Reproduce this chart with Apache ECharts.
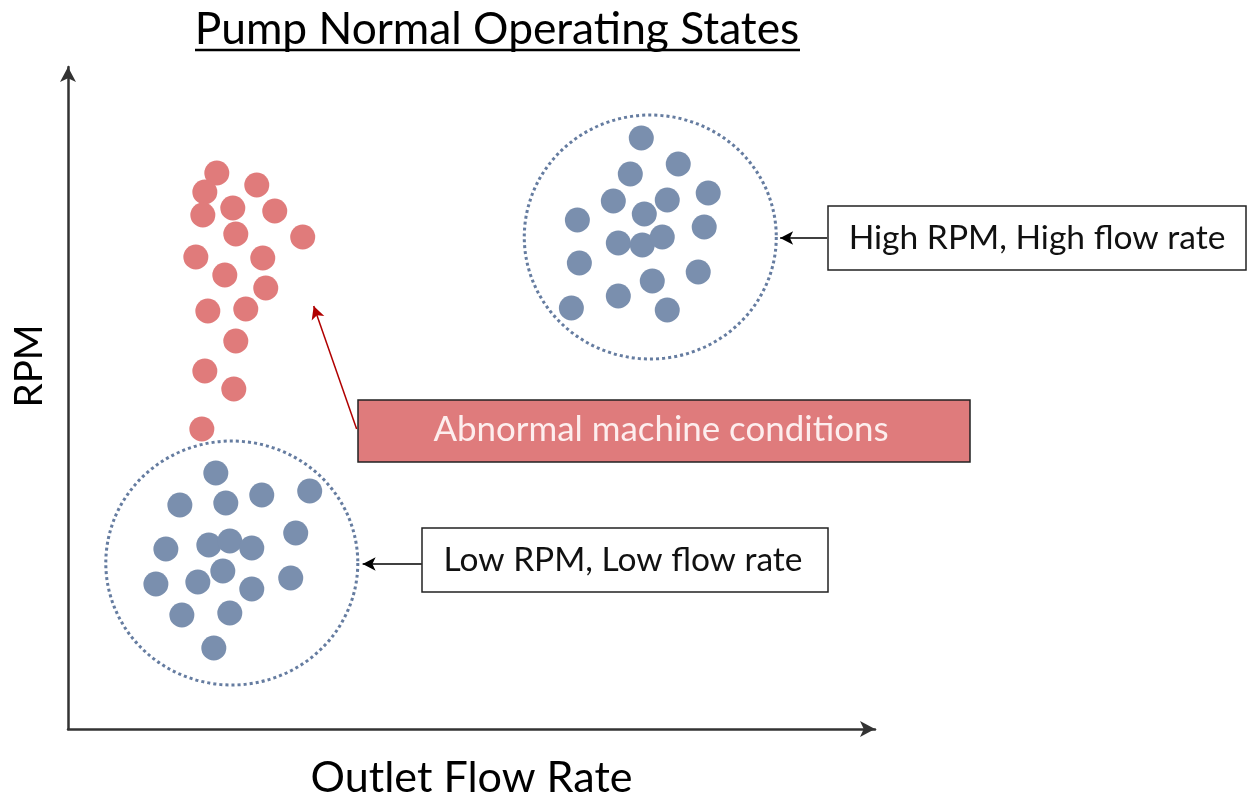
<!DOCTYPE html>
<html>
<head>
<meta charset="utf-8">
<script src="https://cdn.jsdelivr.net/npm/echarts@6/dist/echarts.min.js"></script>
<style>html,body{margin:0;padding:0;background:#fff}#c{width:1248px;height:797px}</style>
</head>
<body>
<div id="c"></div>
<script>
// Data (arbitrary units: outlet flow rate, RPM)
const abnormal = [[149,556],[137,537],[189,544],[135,514],[165,521],[207,518],[168,495],[235,492],[128,472],[195,471],[157,454],[198,441],[140,418],[178,420],[168,388],[137,358],[166,340],[134,300]];
const highState = [[574,591],[611,565],[563,555],[641,536],[546,528],[600,529],[577,515],[510,509],[637,502],[551,486],[575,484],[595,492],[512,466],[631,457],[585,448],[551,433],[504,421],[600,419]];
const lowState = [[148,256],[112,224],[158,226],[194,234],[242,238],[98,180],[141,184],[162,188],[184,181],[228,196],[155,158],[88,145],[130,147],[184,140],[223,151],[114,114],[162,116],[146,81]];
const clusterCenters = [[583,492],[164,166]];
const arrowsBlack = [[[760,491],[713,491]],[[354,165],[295,165]]];
const arrowRed = [[289,300],[246,423]];

const FONT = 'Lato';
function fit(text, target, weight) {
  const c = document.createElement('canvas').getContext('2d');
  c.font = (weight||'normal') + ' 100px ' + FONT;
  return Math.round(100 * target / c.measureText(text).width * 10) / 10;
}
const titleText = 'Pump Normal Operating States';
const tSize = fit(titleText, 605);
const hiText = 'High RPM, High flow rate', loText = 'Low RPM, Low flow rate', abText = 'Abnormal machine conditions';
const hiSize = fit(hiText, 377), loSize = fit(loText, 359), abSize = fit(abText, 455);
const xnSize = fit('Outlet Flow Rate', 322), ynSize = fit('RPM', 83);

const chart = echarts.init(document.getElementById('c'));
chart.setOption({
  animation: false,
  backgroundColor: '#fff',
  grid: {left: 68, right: 373, top: 67, bottom: 68, containLabel: false, outerBoundsMode: 'none'},
  xAxis: {type: 'value', min: 0, max: 808, splitLine: {show: false}, axisTick: {show: false}, axisLabel: {show: false},
    axisLine: {show: true, lineStyle: {color: '#333', width: 2.5}, symbol: ['none', 'arrow'], symbolSize: [12, 15]},
    name: 'Outlet Flow Rate', nameLocation: 'middle', nameGap: 28,
    nameTextStyle: {fontFamily: FONT, fontSize: xnSize, color: '#000'}},
  yAxis: {type: 'value', min: 0, max: 662, splitLine: {show: false}, axisTick: {show: false}, axisLabel: {show: false},
    axisLine: {show: true, lineStyle: {color: '#333', width: 2.5}, symbol: ['none', 'arrow'], symbolSize: [12, 15]}},
  graphic: [
    {type: 'text', style: {text: titleText, font: tSize + 'px ' + FONT, fill: '#000', x: 497, y: 30, align: 'center', verticalAlign: 'middle'}},
    {type: 'line', shape: {x1: 195, y1: 50, x2: 800, y2: 50}, style: {stroke: '#000', lineWidth: 2.5}},
    {type: 'text', x: 30, y: 366, rotation: Math.PI / 2, style: {text: 'RPM', font: ynSize + 'px ' + FONT, fill: '#000', align: 'center', verticalAlign: 'middle'}},
    {type: 'rect', shape: {x: 828, y: 206, width: 418, height: 64}, style: {fill: '#fff', stroke: '#222', lineWidth: 1.5}},
    {type: 'text', style: {text: hiText, x: 1037, y: 238, font: hiSize + 'px ' + FONT, fill: '#111', align: 'center', verticalAlign: 'middle'}},
    {type: 'rect', shape: {x: 422, y: 528, width: 406, height: 64}, style: {fill: '#fff', stroke: '#222', lineWidth: 1.5}},
    {type: 'text', style: {text: loText, x: 623, y: 560, font: loSize + 'px ' + FONT, fill: '#111', align: 'center', verticalAlign: 'middle'}},
    {type: 'rect', shape: {x: 358, y: 400, width: 612, height: 62}, style: {fill: '#df7b7c', stroke: '#222', lineWidth: 1.5}},
    {type: 'text', style: {text: abText, x: 661, y: 430, font: abSize + 'px ' + FONT, fill: '#fdeeee', align: 'center', verticalAlign: 'middle'}}
  ],
  series: [
    {type: 'scatter', data: clusterCenters, symbol: 'circle', symbolSize: [252, 244], silent: true, z: 1,
      itemStyle: {color: 'rgba(0,0,0,0)', borderColor: '#3e5b88', borderWidth: 3, borderType: [3, 3]},
      markLine: {silent: true, symbol: ['none', 'arrow'], symbolSize: [10, 13], label: {show: false},
        lineStyle: {color: '#000', width: 1.5, type: 'solid'},
        data: arrowsBlack.map(a => [{coord: a[0]}, {coord: a[1]}]).concat([[{coord: arrowRed[0], lineStyle: {color: '#b00000'}}, {coord: arrowRed[1]}]])}},
    {type: 'scatter', data: abnormal, symbolSize: 25, itemStyle: {color: '#e07b7b', opacity: 1}, z: 3},
    {type: 'scatter', data: highState, symbolSize: 25, itemStyle: {color: '#7a8fae', opacity: 1}, z: 3},
    {type: 'scatter', data: lowState, symbolSize: 25, itemStyle: {color: '#7a8fae', opacity: 1}, z: 3}
  ]
});
</script>
</body>
</html>
